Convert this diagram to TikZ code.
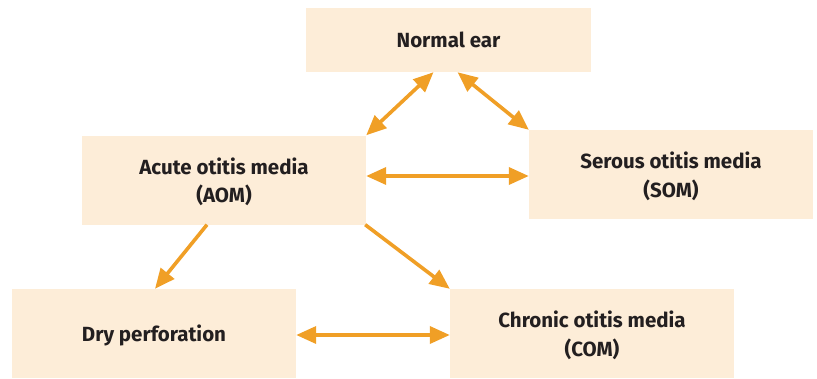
\documentclass[tikz,border=0pt]{standalone}
\usepackage{fontspec}
\setmainfont{Fira Sans}
\usetikzlibrary{arrows.meta,calc}
\definecolor{boxfill}{HTML}{FDEDD8}
\definecolor{arr}{HTML}{F09F26}
\definecolor{txt}{HTML}{231F20}
\begin{document}
\begin{tikzpicture}[x=1pt,y=-1pt,
  box/.style={fill=boxfill,draw=none,minimum width=284pt,minimum height=89pt,inner sep=0pt,
    font=\fontsize{20.5}{28.5}\selectfont\bfseries,text=txt,align=center,text depth=0pt},
  con/.style={draw=arr,line width=3.6pt,-{Triangle[length=20pt,width=17pt]}},
  dcon/.style={draw=arr,line width=3.6pt,{Triangle[length=20pt,width=17pt]}-{Triangle[length=20pt,width=17pt]}}]
\useasboundingbox (0,0) rectangle (817,378);
\node[box,minimum width=285pt,minimum height=64pt] (ne) at (448.5,40) {Normal ear};
\node[box] (aom) at (224,180) {Acute otitis media\\(AOM)};
\node[box] (som) at (671,174.5) {Serous otitis media\\(SOM)};
\node[box] (dry) at (154,333.5) {Dry perforation};
\node[box] (com) at (592,333.5) {Chronic otitis media\\(COM)};
\draw[dcon] ([xshift=-15pt]ne.south) -- (aom.north east);
\draw[dcon] ([xshift=9pt]ne.south) -- (som.north west);
\draw[dcon] ([yshift=4pt]aom.east) -- ([yshift=4pt]aom.east -| som.west);
\draw[con] ([xshift=-17pt]aom.south) -- ([xshift=1pt]dry.north);
\draw[con] ([xshift=-1pt]aom.south east) -- (com.north west);
\draw[dcon] ([yshift=-1.5pt]dry.east) -- ([yshift=-1.5pt]dry.east -| com.west);
\end{tikzpicture}
\end{document}
